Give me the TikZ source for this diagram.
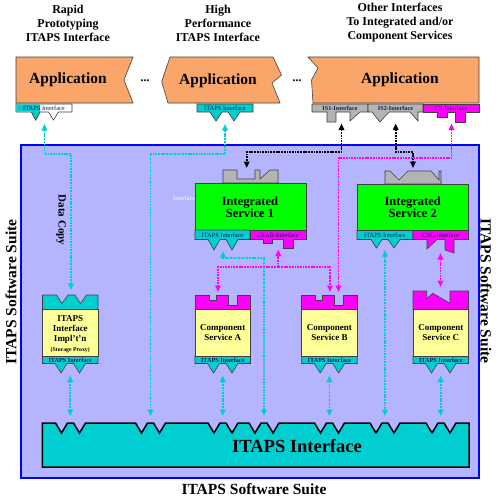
\documentclass[tikz,border=0pt]{standalone}
\usepackage{fontspec}
\setmainfont{Liberation Serif}
\usetikzlibrary{arrows.meta}
\definecolor{appor}{RGB}{250,166,106}
\definecolor{cyn}{RGB}{0,206,209}
\definecolor{mag}{RGB}{255,0,255}
\definecolor{grn}{RGB}{0,255,0}
\definecolor{yel}{RGB}{255,255,153}
\definecolor{gry}{RGB}{180,180,180}
\definecolor{lav}{RGB}{180,180,255}
\definecolor{blu}{RGB}{0,0,255}
\definecolor{tabc}{RGB}{10,30,80}
\tikzset{
 ol/.style={draw=black!75, line width=0.6pt},
 ttl/.style={font=\fontsize{12}{14}\selectfont\bfseries, align=center, inner sep=0},
 apptxt/.style={font=\fontsize{15.5}{16}\selectfont\bfseries, inner sep=0},
 tabtxt/.style={font=\fontsize{6.4}{7}\selectfont, text=tabc, inner sep=0},
 tabbold/.style={font=\fontsize{6.2}{7}\selectfont\bfseries, text=tabc, inner sep=0},
 comptxt/.style={font=\fontsize{9}{10}\selectfont\bfseries, align=center, inner sep=0},
 istxt/.style={font=\fontsize{12.5}{12}\selectfont\bfseries, align=center, inner sep=0},
 side/.style={font=\fontsize{15.5}{16}\selectfont\bfseries, inner sep=0},
 conn/.style={line width=1.7pt, dash pattern=on 1.8pt off 0.9pt, >={Triangle[length=6.5pt,width=5.5pt]}},
 cyl/.style={conn, draw=cyn},
 mgl/.style={conn, draw=mag},
 bkl/.style={conn, draw=black},
 botstrip/.pic={
   \filldraw[fill=cyn, ol] (0,356) -- (55.5,356) -- (55.5,363.5) -- (43,363.5) -- (37,373) -- (31,363.5) -- (24.5,363.5) -- (18.5,373) -- (12.5,363.5) -- (0,363.5) -- cycle;
   \fill[yel] (0.3,309.8) rectangle (55.2,355.7);
   \draw[ol] (0,309.5) rectangle (55.5,356);
   \node[tabbold] (-lbl) at (27.75,359.9) {ITAPS Interface};
 },
 magtop/.pic={
   \filldraw[fill=mag, ol] (0,309.5) -- (0,295) -- (14,295) -- (14,300) -- (21,300) -- (21,295) -- (33,295) -- (33,305) -- (42,305) -- (42,295) -- (55.5,295) -- (55.5,309.5) -- cycle;
 }
}
\begin{document}
\begin{tikzpicture}[x=1pt,y=-1pt]
\useasboundingbox (0,0) rectangle (500,501);
\fill[white] (0,0) rectangle (500,501);

% titles
\node[ttl] (t1) at (68,23) {Rapid\\Prototyping\\ITAPS Interface};
\node[ttl] (t2) at (218,23) {High\\Performance\\ITAPS Interface};
\node[ttl] (t3) at (400,23) {Other Interfaces\\To Integrated and/or\\Component Services};

% suite background
\filldraw[fill=lav, draw=blu, line width=1.5pt] (21,145) rectangle (479,478);
\node[side, rotate=90] (sl) at (11,292) {ITAPS Software Suite};
\node[side, rotate=-90] (sr) at (486,291) {ITAPS Software Suite};
\node[side] (sb) at (254,489) {ITAPS Software Suite};

% applications
\filldraw[fill=appor, ol] (16,57) -- (133,57) -- (124,80) -- (133,103) -- (16,103) -- cycle;
\node[apptxt] (a1) at (68,80) {Application};
\filldraw[fill=appor, ol] (170,57) -- (273,57) -- (281.5,75) -- (272,83) -- (280,103) -- (168,103) -- (161.7,81.7) -- cycle;
\node[apptxt] (a2) at (218,81) {Application};
\filldraw[fill=appor, ol] (308,57) -- (479,57) -- (479,103) -- (313,103) -- (311.5,80) -- (318,68) -- cycle;
\node[apptxt] (a3) at (400,80) {Application};
\node[font=\fontsize{12}{12}\selectfont\bfseries] (d1) at (145,81) {...};
\node[font=\fontsize{12}{12}\selectfont\bfseries] (d2) at (297,81) {...};

% app tabs
\filldraw[fill=white, ol] (16,104) -- (72,104) -- (72,112) -- (58.5,112) -- (53.5,120) -- (48.5,112) -- (40,112) -- (35.7,120) -- (31.5,112) -- (16,112) -- cycle;
\fill[cyn] (16.3,104.3) -- (40,104.3) -- (40,111.7) -- (35.7,119) -- (31.8,111.7) -- (16.3,111.7) -- cycle;
\draw[ol] (31.5,112) -- (35.7,120) -- (40,112);
\node[tabtxt] (tab1) at (44,108.2) {ITAPS Interface};
\filldraw[fill=cyn, ol] (197,104) -- (253,104) -- (253,112) -- (240,112) -- (234,121) -- (228,112) -- (222,112) -- (216,121) -- (210,112) -- (197,112) -- cycle;
\node[tabtxt] (tab2) at (225,108.2) {ITAPS Interface};
\filldraw[fill=gry, ol] (312,104) -- (368,104) -- (368,112) -- (360,112) -- (350,121) -- (350,112) -- (336,112) -- (336,122) -- (327,122) -- (327,112) -- (312,112) -- cycle;
\filldraw[fill=gry, ol] (368,104) -- (423,104) -- (423,112) -- (418,112) -- (418,121) -- (410,112) -- (389,112) -- (380,122) -- (372,112) -- (368,112) -- cycle;
\filldraw[fill=mag, ol] (423,104) -- (479,104) -- (479,112) -- (465,112) -- (465,122) -- (455,122) -- (455,112) -- (447,112) -- (447,117) -- (437,117) -- (437,112) -- (423,112) -- cycle;
\node[tabbold] (tab3) at (340,108.2) {IS1-Interface};
\node[tabbold] (tab4) at (395.5,108.2) {IS2-Interface};
\node[tabtxt] (tab5) at (451,108.2) {CS-Interface};

% integrated service 1
\node[font=\fontsize{6.2}{7}\selectfont, text=white, inner sep=0, anchor=west] (ghost) at (173,198) {Interface};
\filldraw[fill=gry, ol] (223,183) -- (223,170) -- (237,170) -- (237,179) -- (255,179) -- (255,170) -- (260,170) -- (260,179) -- (270,170) -- (278,170) -- (278,183) -- cycle;
\filldraw[fill=grn, ol] (195,183) rectangle (306,230);
\node[istxt] (is1) at (250,207.5) {Integrated\\Service 1};
\filldraw[fill=cyn, ol] (195,230) -- (250,230) -- (250,239.5) -- (238,239.5) -- (232,250) -- (226,239.5) -- (220,239.5) -- (214,250) -- (208,239.5) -- (195,239.5) -- cycle;
\filldraw[fill=mag, ol] (250,230) -- (306,230) -- (306,239.5) -- (293,239.5) -- (293,248) -- (283,248) -- (283,239.5) -- (272,239.5) -- (272,243) -- (263,243) -- (263,239.5) -- (250,239.5) -- cycle;
\node[tabtxt] (is1a) at (222.5,235) {ITAPS Interface};
\node[tabtxt] (is1b) at (278,235) {CSAB-Interface};

% integrated service 2
\filldraw[fill=gry, ol] (385,184) -- (385,171) -- (390,171) -- (399,180) -- (408,171) -- (431,171) -- (439,180) -- (439,171) -- (441,171) -- (441,184) -- cycle;
\filldraw[fill=grn, ol] (357,184) rectangle (468.5,230.5);
\node[istxt] (is2) at (412.7,207.5) {Integrated\\Service 2};
\filldraw[fill=cyn, ol] (357,230.5) -- (413,230.5) -- (413,239.5) -- (400,239.5) -- (394,248) -- (388,239.5) -- (382,239.5) -- (376.5,248) -- (371,239.5) -- (357,239.5) -- cycle;
\filldraw[fill=mag, ol] (413,230.5) -- (468.5,230.5) -- (468.5,239.5) -- (454,239.5) -- (454,253) -- (445,250) -- (445,239.5) -- (437,239.5) -- (427,249) -- (427,239.5) -- (413,239.5) -- cycle;
\node[tabtxt] (is2a) at (385,235) {ITAPS Interface};
\node[tabtxt] (is2b) at (440.7,235) {CSC-Interface};

% component boxes
\begin{scope}[shift={(42.5,0)}]
 \filldraw[fill=cyn, ol] (0,309.5) -- (0,295) -- (14,295) -- (19.5,303.5) -- (25.5,295) -- (32.5,295) -- (38,303.5) -- (44,295) -- (55.5,295) -- (55.5,309.5) -- cycle;
 \pic (impl) {botstrip};
 \node[comptxt] (impltxt) at (27.75,329.5) {ITAPS\\Interface\\Impl't'n};
 \node[font=\fontsize{5.8}{6}\selectfont\bfseries, inner sep=0] (proxy) at (27.75,350) {(Storage Proxy)};
\end{scope}
\begin{scope}[shift={(195,0)}]
 \pic {magtop};
 \pic (csa) {botstrip};
 \node[comptxt] (csatxt) at (27.75,333) {Component\\Service A};
\end{scope}
\begin{scope}[shift={(301.7,0)}]
 \pic {magtop};
 \pic (csb) {botstrip};
 \node[comptxt] (csbtxt) at (27.75,333) {Component\\Service B};
\end{scope}
\begin{scope}[shift={(413,0)}]
 \filldraw[fill=mag, ol] (0,310) -- (0,291) -- (13.7,291) -- (13.7,298.7) -- (19.7,293.3) -- (37,303.3) -- (37,291) -- (55.5,291) -- (55.5,310) -- cycle;
 \pic (csc) {botstrip};
 \node[comptxt] (csctxt) at (27.75,333) {Component\\Service C};
\end{scope}

% ITAPS interface bar
\filldraw[fill=cyn, draw=black, line width=1.5pt] (42.3,423) \foreach \c in {70.5,150.5,223,264,329.5,385,441}{ -- (\c-15,423) -- (\c-9,433) -- (\c-3,423) -- (\c+3,423) -- (\c+9,433) -- (\c+15,423)} -- (469,423) -- (469,467) -- (42.3,467) -- cycle;
\node[font=\fontsize{18.5}{19}\selectfont\bfseries, inner sep=0] (bar) at (297,446) {ITAPS Interface};

% connectors
\coordinate (c1a) at (44.5,124); \coordinate (c1b) at (71,290);
\draw[cyl,<->] (c1a) -- (44.5,154) -- (71,154) -- (c1b);
\node[font=\fontsize{11}{11}\selectfont\bfseries, rotate=-90, inner sep=0] (dc) at (61,220) {Data Copy};
\coordinate (c2a) at (225,124); \coordinate (c2b) at (150.5,416);
\draw[cyl,<->] (c2a) -- (225,154) -- (150.5,154) -- (c2b);
\coordinate (c3a) at (341.5,123.5); \coordinate (c3b) at (246.7,168);
\draw[bkl,<->] (c3a) -- (341.5,152) -- (246.7,152) -- (c3b);
\coordinate (c4a) at (395.7,123.5); \coordinate (c4b) at (413,168);
\draw[bkl,<->] (c4a) -- (395.7,152) -- (413,152) -- (c4b);
\coordinate (c5a) at (451.5,123.5); \coordinate (c5b) at (338.5,292);
\draw[mgl,<->] (c5a) -- (451.5,158) -- (338.5,158) -- (c5b);
\coordinate (c6a) at (278.3,249.5); \coordinate (c6j) at (278.3,267);
\coordinate (c6b) at (218,292); \coordinate (c6c) at (330,292);
\draw[mgl,->] (c6j) -- (c6a);
\draw[mgl,->] (278.3,267) -- (218,267) -- (c6b);
\draw[mgl,->] (278.3,267) -- (330,267) -- (c6c);
\coordinate (c7a) at (223,251); \coordinate (c7b) at (264,416);
\draw[cyl,<->] (c7a) -- (223,258) -- (264,258) -- (c7b);
\coordinate (c8a) at (385,250); \coordinate (c8b) at (385,416);
\draw[cyl,<->] (c8a) -- (c8b);
\coordinate (c9a) at (440.5,253); \coordinate (c9b) at (440.5,287);
\draw[mgl,<->] (c9a) -- (c9b);
\foreach \x/\n in {70.25/ci,222.75/ca,329.45/cb,440.75/cc}{
  \coordinate (\n t) at (\x,375.5); \coordinate (\n b) at (\x,416);
  \draw[cyl,<->] (\n t) -- (\n b);
}
\end{tikzpicture}
\end{document}
